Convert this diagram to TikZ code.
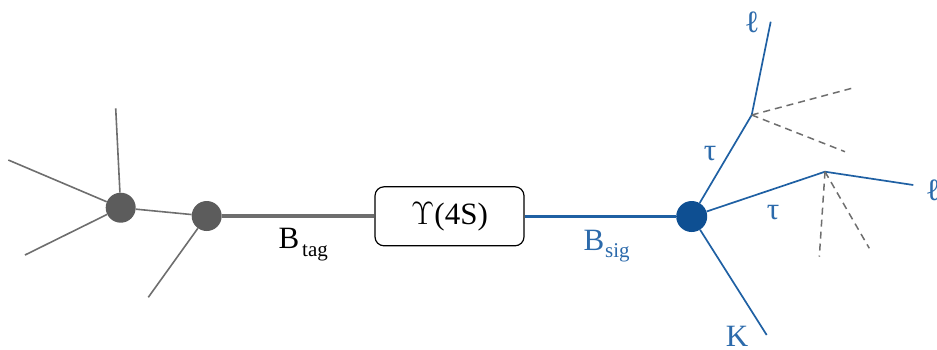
\documentclass[tikz,border=0pt]{standalone}
\usepackage{graphicx}
\usepackage{fontspec}
\setmainfont{Liberation Serif}
\definecolor{gline}{HTML}{6E6E6E}
\definecolor{gdot}{HTML}{5C5C5C}
\definecolor{bline}{HTML}{1F60A3}
\definecolor{bdot}{HTML}{0E4F92}
\definecolor{btext}{HTML}{2C6AAB}
\begin{document}
\begin{tikzpicture}[x=1pt,y=-1pt,
  graydot/.style={circle,fill=gdot,minimum size=30pt,inner sep=0pt},
  bluedot/.style={circle,fill=bdot,minimum size=31pt,inner sep=0pt},
  grayline/.style={draw=gline,line width=1.6pt},
  graythick/.style={draw=gline,line width=3.4pt},
  blueline/.style={draw=bline,line width=1.7pt},
  bluethick/.style={draw=bline,line width=3.4pt},
  dashline/.style={draw=gline,line width=1.5pt,dash pattern=on 7pt off 5pt},
  upsbox/.style={draw,line width=1.2pt,rounded corners=9pt,minimum width=149pt,minimum height=59pt,inner sep=0pt,font=\fontsize{31}{31}\selectfont},
  lbl/.style={inner sep=0pt,font=\fontsize{31}{31}\selectfont},
  sublbl/.style={inner sep=0pt,font=\fontsize{21}{21}\selectfont}
]
\useasboundingbox (0,0) rectangle (937,349);
% left (tag) side
\node[graydot] (g1) at (120.7,207.7) {};
\node[graydot] (g2) at (206.7,216) {};
\coordinate (g1a) at (115.7,108.3);
\coordinate (g1b) at (8.3,160);
\coordinate (g1c) at (25,255);
\coordinate (g2a) at (148.3,297.3);
\draw[grayline] (g1) -- (g1a);
\draw[grayline] (g1) -- (g1b);
\draw[grayline] (g1) -- (g1c);
\draw[grayline] (g1) -- (g2);
\draw[grayline] (g2) -- (g2a);
\node[upsbox] (ups) at (449.5,216.3) {\scalebox{1.3}{$\Upsilon$}(4S)};
\draw[graythick] (g2) -- (ups.west |- g2);
\node[lbl,anchor=base] (btag) at (289,248.3) {B};
\node[sublbl,anchor=base west] (btagsub) at (302,256) {tag};
% right (sig) side
\node[bluedot] (sig) at (691.7,216.5) {};
\draw[bluethick] (ups.east |- sig) -- (sig);
\node[lbl,anchor=base,text=btext] (bsig) at (594,250) {B};
\node[sublbl,anchor=base west,text=btext] (bsigsub) at (605,257.5) {sig};
\coordinate (t1) at (751.7,115);
\coordinate (l1) at (770.7,21.7);
\coordinate (t2) at (825,171.7);
\coordinate (l2) at (913.3,185);
\coordinate (kend) at (766.7,335);
\coordinate (d1) at (851.7,88.3);
\coordinate (d2) at (845,151.7);
\coordinate (d3) at (819.3,256.7);
\coordinate (d4) at (869.3,248.3);
\draw[blueline] (sig) -- (t1) -- (l1);
\draw[blueline] (sig) -- (t2) -- (l2);
\draw[blueline] (sig) -- (kend);
\draw[dashline] (t1) -- (d1);
\draw[dashline] (t1) -- (d2);
\draw[dashline] (t2) -- (d3);
\draw[dashline] (t2) -- (d4);
\node[lbl,text=btext] (ell1) at (752,22) {ℓ};
\node[lbl,text=btext] (ell2) at (933,190) {ℓ};
\node[lbl,text=btext] (tau1) at (710,154) {τ};
\node[lbl,text=btext] (tau2) at (773,213) {τ};
\node[lbl,text=btext,anchor=base] (kl) at (737,346) {K};
\end{tikzpicture}
\end{document}
